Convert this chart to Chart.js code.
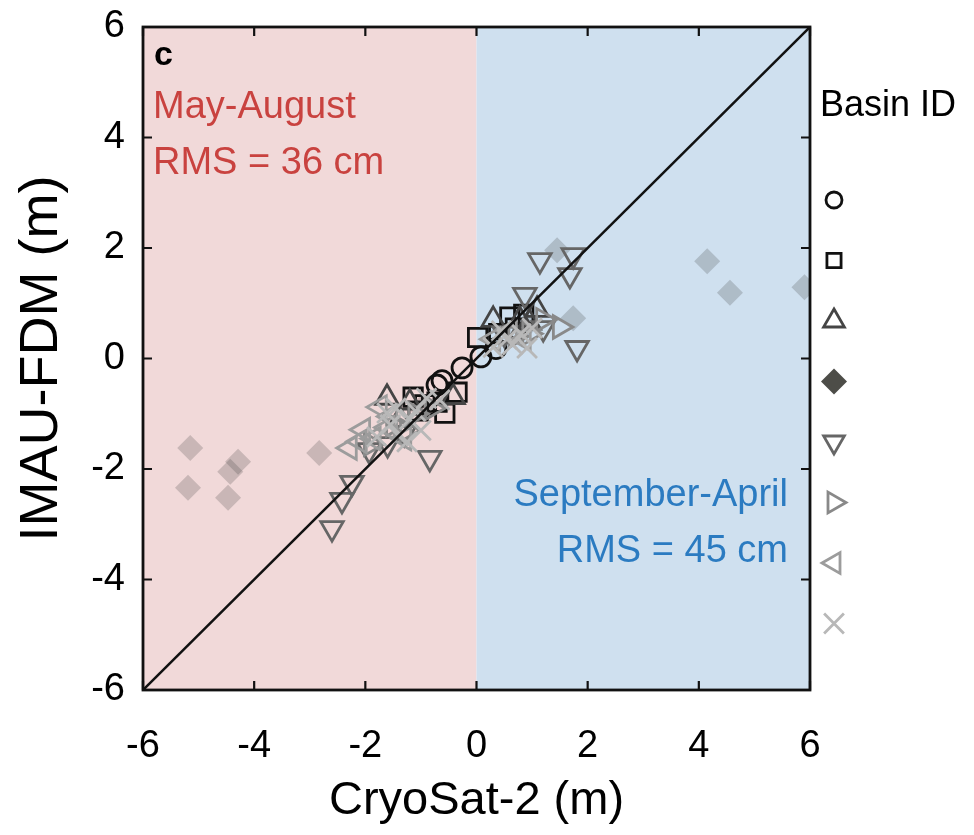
<!DOCTYPE html>
<html>
<head>
<meta charset="utf-8">
<script src="https://cdn.jsdelivr.net/npm/chart.js@4.4.0/dist/chart.umd.min.js"></script>
<style>
  html, body { margin: 0; background: #fff; }
</style>
</head>
<body>
<canvas id="chart" width="974" height="835"></canvas>
<script>
// Datos (CryoSat-2 x, IMAU-FDM y), en metros
const xTicks = [-6, -4, -2, 0, 2, 4, 6];
const yTicks = [-6, -4, -2, 0, 2, 4, 6];

const basin1 = [[-0.71, -0.48], [-0.62, -0.40], [-0.26, -0.17], [0.08, 0.03], [0.35, 0.18]];
const basin2 = [[-1.14, -0.70], [-0.35, -0.61], [-0.71, -0.79], [-0.57, -0.99], [-0.93, -0.84], [-1.05, -0.95],
                [0.02, 0.38], [0.40, 0.45], [0.60, 0.75], [0.85, 0.80], [0.70, 0.55]];
const basin3 = [[-0.42, -0.70], [-1.61, -0.71], [-1.38, -1.11], [-1.20, -0.80], [0.30, 0.70], [1.09, 0.88],
                [0.78, 0.70], [0.95, 0.65]];
const basin4 = [[-5.15, -1.62], [-5.19, -2.34], [-4.43, -2.05], [-4.29, -1.87], [-4.47, -2.52], [-2.83, -1.71],
                [4.15, 1.76], [4.56, 1.19], [5.90, 1.29], [1.45, 1.96], [1.74, 0.73], [-1.00, -0.90], [0.90, 0.60]];
const basin5 = [[1.14, 1.78], [1.74, 1.87], [1.68, 1.51], [0.87, 1.15], [1.81, 0.19], [-2.60, -3.07],
                [-2.42, -2.56], [-2.24, -2.25], [-0.84, -1.80], [-1.93, -1.66], [-1.30, -1.35], [0.50, 0.45],
                [1.20, 0.55], [-1.60, -1.55]];
const basin6 = [[1.50, 0.57], [1.20, 0.70], [0.70, 0.40], [-1.50, -1.20], [-1.10, -1.00], [-0.80, -0.90],
                [-1.90, -1.55], [-1.25, -1.30], [0.95, 0.45]];
const basin7 = [[-2.28, -1.62], [-2.04, -1.29], [-1.74, -0.88], [-1.85, -1.45], [-1.55, -1.05], [-1.30, -1.45],
                [-2.10, -1.50], [-1.60, -1.25], [0.30, 0.35], [0.60, 0.50], [0.85, 0.35]];
const basin8 = [[-1.61, -0.99], [-0.66, -0.75], [-1.25, -1.51], [-1.79, -1.42], [-1.45, -0.90], [-1.10, -0.95],
                [-0.90, -0.72], [-1.40, -1.40], [-1.00, -1.30], [-1.55, -1.20], [-1.20, -1.10], [0.30, 0.20],
                [0.55, 0.35], [0.80, 0.45], [1.00, 0.55], [0.91, 0.19], [0.45, 0.50], [0.65, 0.25]];
const oneToOne = [[-6, -6], [6, 6]];

// Estilos de cada cuenca (marcador, color, tamaño en datos y en leyenda)
const basinStyles = [
    { data: basin1, pointStyle: "circle", rotation: 0, radius: 10, legendRadius: 8, color: "#111111" },
    { data: basin2, pointStyle: "rect", rotation: 0, radius: 13, legendRadius: 10, color: "#111111" },
    { data: basin3, pointStyle: "triangle", rotation: 0, radius: 13, legendRadius: 12, color: "#454545" },
    { data: basin4, pointStyle: "rectRot", rotation: 0, radius: 13, legendRadius: 13, color: "#4d4d48", fill: "rgba(60,60,60,0.22)" },
    { data: basin5, pointStyle: "triangle", rotation: 180, radius: 13, legendRadius: 12, color: "#666666" },
    { data: basin6, pointStyle: "triangle", rotation: 90, radius: 13, legendRadius: 12, color: "#898989" },
    { data: basin7, pointStyle: "triangle", rotation: 270, radius: 13, legendRadius: 12, color: "#9c9c9c" },
    { data: basin8, pointStyle: "crossRot", rotation: 0, radius: 14, legendRadius: 14, color: "#b8b8b8" }
];

const toXY = arr => arr.map(p => ({ x: p[0], y: p[1] }));

const datasets = [{
    type: "line",
    data: toXY(oneToOne),
    borderColor: "#111111",
    borderWidth: 2.5,
    pointRadius: 0,
    order: 0
}];

basinStyles.forEach((s, i) => {
    const filled = s.pointStyle === "rectRot";
    datasets.push({
        type: "scatter",
        data: toXY(s.data),
        pointStyle: s.pointStyle,
        rotation: s.rotation,
        pointRadius: s.radius,
        pointBorderWidth: filled ? 0 : 2.8,
        borderColor: s.color,
        backgroundColor: filled ? s.fill : "rgba(0,0,0,0)",
        clip: 0,
        order: 8 - i
    });
});

// Fondo rosa / azul por temporada
const seasonBackground = {
    id: "seasonBackground",
    beforeDatasetsDraw(chart) {
        const { ctx, chartArea, scales } = chart;
        const x0 = scales.x.getPixelForValue(0);
        ctx.save();
        ctx.fillStyle = "#f1d9d9";
        ctx.fillRect(chartArea.left, chartArea.top, x0 - chartArea.left, chartArea.bottom - chartArea.top);
        ctx.fillStyle = "#cfe0ef";
        ctx.fillRect(x0, chartArea.top, chartArea.right - x0, chartArea.bottom - chartArea.top);
        ctx.restore();
    }
};

// Marco con marcas hacia adentro en los cuatro lados
const boxFrame = {
    id: "boxFrame",
    afterDatasetsDraw(chart) {
        const { ctx, chartArea: a, scales } = chart;
        const len = 9;
        ctx.save();
        ctx.strokeStyle = "#111111";
        ctx.lineWidth = 2.2;
        ctx.beginPath();
        xTicks.forEach(v => {
            const px = scales.x.getPixelForValue(v);
            ctx.moveTo(px, a.bottom); ctx.lineTo(px, a.bottom - len);
            ctx.moveTo(px, a.top); ctx.lineTo(px, a.top + len);
        });
        yTicks.forEach(v => {
            const py = scales.y.getPixelForValue(v);
            ctx.moveTo(a.left, py); ctx.lineTo(a.left + len, py);
            ctx.moveTo(a.right, py); ctx.lineTo(a.right - len, py);
        });
        ctx.stroke();
        ctx.lineWidth = 2.8;
        ctx.strokeRect(a.left, a.top, a.right - a.left, a.bottom - a.top);
        ctx.restore();
    }
};

// Textos y leyenda de cuencas
const annotations = {
    id: "annotations",
    afterDraw(chart) {
        const { ctx, chartArea: a } = chart;
        ctx.save();
        ctx.textBaseline = "middle";
        ctx.fillStyle = "#000";
        ctx.font = "bold 34px 'Liberation Sans', Arial, sans-serif";
        ctx.fillText("c", a.left + 11, 56);

        ctx.font = "38px 'Liberation Sans', Arial, sans-serif";
        ctx.fillStyle = "#c9423f";
        ctx.textAlign = "left";
        ctx.fillText("May-August", a.left + 10, 108);
        ctx.fillText("RMS = 36 cm", a.left + 10, 164);

        ctx.fillStyle = "#2b7bc1";
        ctx.textAlign = "right";
        ctx.fillText("September-April", a.right - 22, 496);
        ctx.fillText("RMS = 45 cm", a.right - 22, 552);

        ctx.fillStyle = "#000";
        ctx.textAlign = "left";
        ctx.font = "36px 'Liberation Sans', Arial, sans-serif";
        ctx.fillText("Basin ID", a.right + 10, 106);

        const lx = a.right + 24;
        basinStyles.forEach((s, i) => {
            const ly = 200 + i * 60.5;
            const filled = s.pointStyle === "rectRot";
            ctx.strokeStyle = s.color;
            ctx.fillStyle = filled ? s.color : "rgba(0,0,0,0)";
            ctx.lineWidth = 2.8;
            Chart.helpers.drawPoint(ctx, {
                pointStyle: s.pointStyle,
                rotation: s.rotation,
                radius: s.legendRadius,
                borderWidth: filled ? 0 : 2.8
            }, lx, ly);
        });
        ctx.restore();
    }
};

const tickFont = { family: "'Liberation Sans', Arial, sans-serif", size: 38 };

new Chart(document.getElementById("chart"), {
    type: "scatter",
    data: { datasets: datasets },
    options: {
        responsive: false,
        animation: false,
        layout: { padding: { top: 27, right: 164, left: 10, bottom: 6 } },
        plugins: {
            legend: { display: false },
            tooltip: { enabled: false }
        },
        scales: {
            x: {
                type: "linear",
                min: -6,
                max: 6,
                afterBuildTicks: scale => { scale.ticks = xTicks.map(v => ({ value: v })); },
                afterFit: scale => { scale.height = 139; },
                ticks: { autoSkip: false, maxRotation: 0, color: "#000", font: tickFont, padding: 26 },
                grid: { display: false },
                border: { display: false },
                title: {
                    display: true,
                    text: "CryoSat-2 (m)",
                    color: "#000",
                    font: { family: "'Liberation Sans', Arial, sans-serif", size: 47 },
                    padding: 0
                }
            },
            y: {
                type: "linear",
                min: -6,
                max: 6,
                afterBuildTicks: scale => { scale.ticks = yTicks.map(v => ({ value: v })); },
                afterFit: scale => {
                    scale.width = 133;
                    scale.paddingTop = 0;
                    scale.paddingBottom = 0;
                },
                ticks: { autoSkip: false, color: "#000", font: tickFont, padding: 10 },
                grid: { display: false },
                border: { display: false },
                title: {
                    display: true,
                    text: "IMAU-FDM (m)",
                    color: "#000",
                    font: { family: "'Liberation Sans', Arial, sans-serif", size: 54 },
                    padding: 0
                }
            }
        }
    },
    plugins: [seasonBackground, boxFrame, annotations]
});
</script>
</body>
</html>
